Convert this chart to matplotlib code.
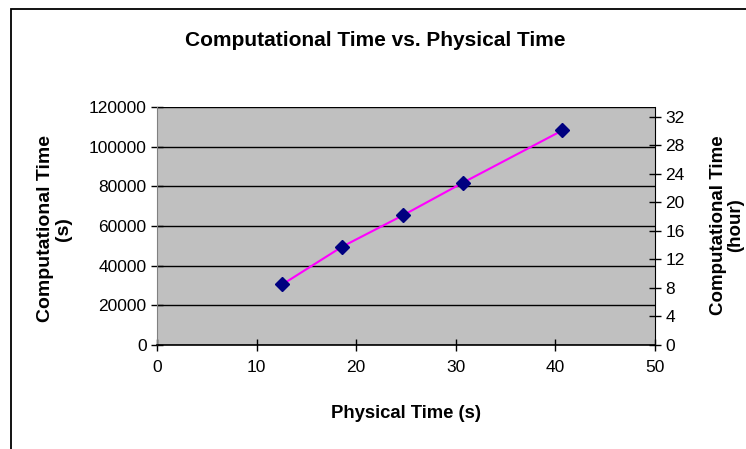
import matplotlib
matplotlib.use("Agg")
import matplotlib.pyplot as plt
from matplotlib.patches import Rectangle

physical_time = [12.6, 18.6, 24.7, 30.7, 40.7]
comp_time_s = [30600, 49600, 65400, 81800, 108200]
x_ticks = [0, 10, 20, 30, 40, 50]
y_ticks = [0, 20000, 40000, 60000, 80000, 100000, 120000]
y2_ticks = [0, 4, 8, 12, 16, 20, 24, 28, 32]

plt.rcParams['font.family'] = ['Liberation Sans', 'DejaVu Sans']

W, H = 746, 449
fig = plt.figure(figsize=(W/100, H/100), dpi=100)
ax = fig.add_axes([157/W, 1-345/H, (655-157)/W, (345-107)/H])
ax.set_facecolor('#c0c0c0')
ax.set_xlim(0, 50)
ax.set_ylim(0, 120000)
ax.set_xticks(x_ticks)
ax.set_yticks(y_ticks)
ax.yaxis.grid(True, color='black', linewidth=1.0)
ax.set_axisbelow(True)
for s in ['top', 'right']:
    ax.spines[s].set_visible(False)
ax.spines['left'].set_color('#808080')
ax.spines['bottom'].set_color('black')
ax.spines['bottom'].set_linewidth(1.2)
ax.tick_params(axis='both', direction='inout', length=8, labelsize=12.5, width=1)
ax.tick_params(axis='x', pad=7)
ax.plot(physical_time, comp_time_s, color='#ff00ff', linewidth=1.5, zorder=3)
ax.plot(physical_time, comp_time_s, linestyle='none', marker='D', markersize=7,
        markerfacecolor='#000080', markeredgecolor='#000080', zorder=4)

ax2 = ax.twinx()
ax2.set_ylim(0, 120000/3600)
ax2.set_yticks(y2_ticks)
for s in ['top', 'left', 'bottom']:
    ax2.spines[s].set_visible(False)
ax2.spines['right'].set_color('black')
ax2.tick_params(axis='y', direction='inout', length=8, labelsize=12.5, width=1)

fig.text(375/W, 1-41/H, 'Computational Time vs. Physical Time', fontsize=15,
         fontweight='bold', ha='center', va='center')
fig.text(406/W, 1-413/H, 'Physical Time (s)', fontsize=13.3,
         fontweight='bold', ha='center', va='center')
fig.text(54.5/W, 1-229/H, 'Computational Time\n(s)', fontsize=14, rotation=90,
         fontweight='bold', ha='center', va='center', multialignment='center',
         linespacing=1.15)
fig.text(727/W, 1-225/H, 'Computational Time\n(hour)', fontsize=13.5, rotation=90,
         fontweight='bold', ha='center', va='center', multialignment='center',
         linespacing=1.0)

fig.patches.append(Rectangle((11/W, -0.1), 1.2, 1-9.5/H+0.1, transform=fig.transFigure,
                             fill=False, edgecolor='black', linewidth=1.3))

fig.savefig('out.png', dpi=100)
